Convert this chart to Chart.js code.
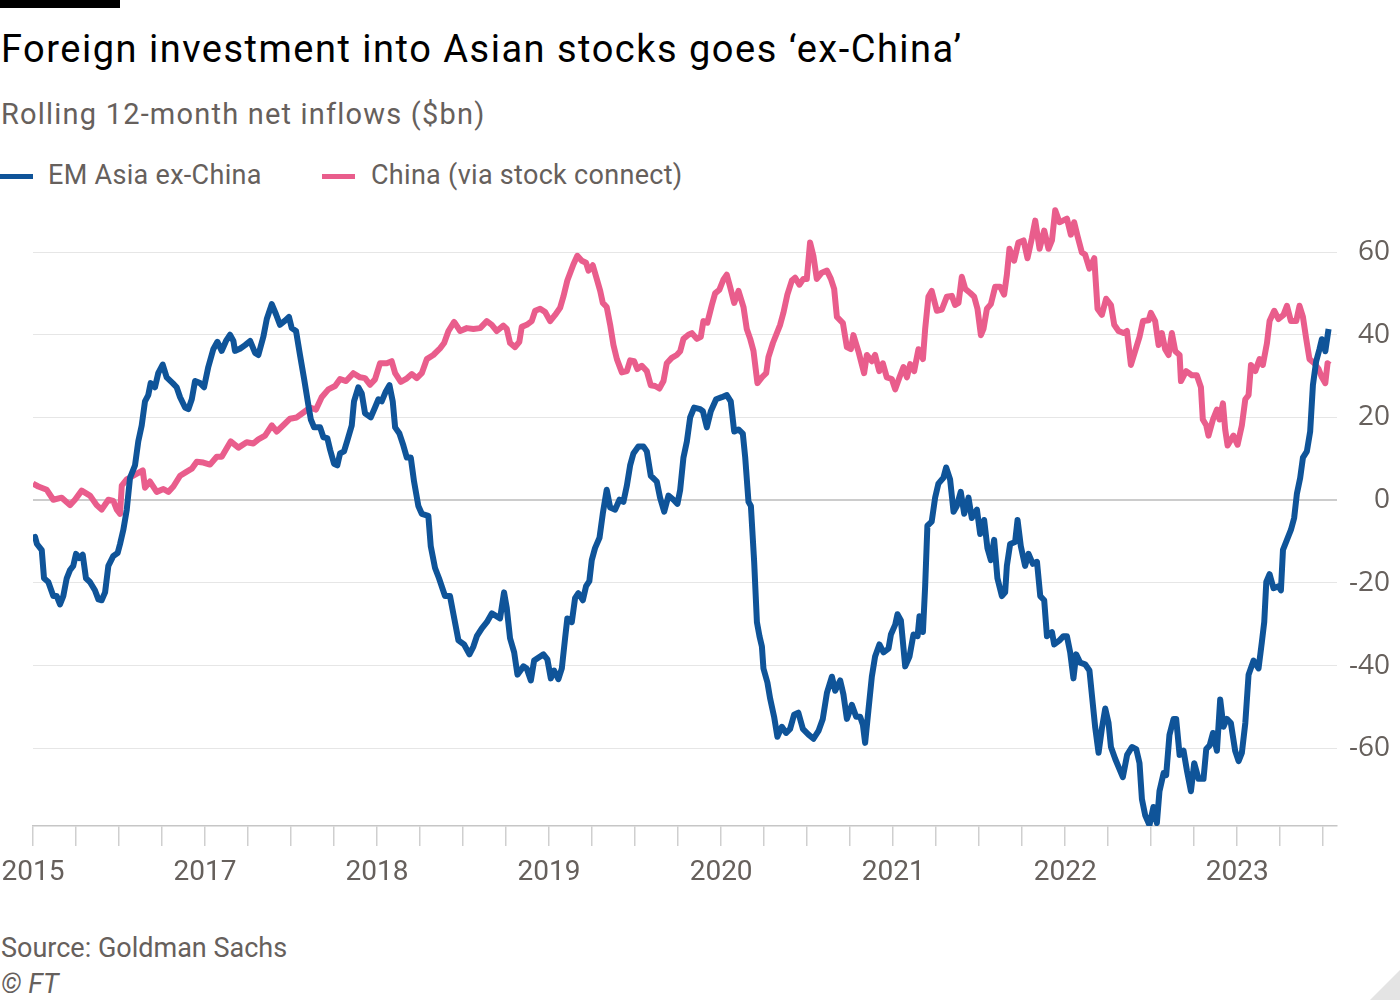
<!DOCTYPE html>
<html>
<head>
<meta charset="utf-8">
<script src="https://cdn.jsdelivr.net/npm/chart.js@4.4.0/dist/chart.umd.min.js"></script>
<style>
  html, body { margin: 0; padding: 0; background: #fff; }
  body { width: 1400px; height: 1000px; position: relative; overflow: hidden; font-family: Roboto, "Noto Sans", sans-serif; }
  .bar { position: absolute; left: 0; top: 0; width: 120px; height: 8px; background: #000; }
  .txt { position: absolute; left: 1px; line-height: 1; white-space: nowrap; }
  #title { top: 30px; font-size: 38px; color: #000; letter-spacing: 1.5px; }
  #subtitle { top: 100px; font-size: 29px; color: #66605c; letter-spacing: 1.2px; }
  .legend { position: absolute; top: 162px; font-size: 27px; color: #66605c; line-height: 1; white-space: nowrap; letter-spacing: 0.3px; }
  .swatch { position: absolute; top: 174px; width: 33px; height: 5px; }
  #source { top: 935px; font-size: 27px; color: #66605c; }
  #ft { top: 971px; font-size: 27px; color: #66605c; font-style: italic; }
  #chart { position: absolute; left: 0; top: 195px; }
  .corner { position: absolute; right: 0; bottom: 0; width: 0; height: 0; border-left: 30px solid transparent; border-bottom: 30px solid #e4e4e4; }
</style>
</head>
<body>
<div class="bar"></div>
<div class="txt" id="title">Foreign investment into Asian stocks goes ‘ex-China’</div>
<div class="txt" id="subtitle">Rolling 12-month net inflows ($bn)</div>
<div class="swatch" style="left:0;background:#0f5499"></div>
<div class="legend" style="left:48px">EM Asia ex-China</div>
<div class="swatch" style="left:322px;background:#e95d8c"></div>
<div class="legend" style="left:371px">China (via stock connect)</div>
<canvas id="chart" width="1400" height="705"></canvas>
<div class="txt" id="source">Source: Goldman Sachs</div>
<div class="txt" id="ft">© FT</div>
<div class="corner"></div>
<script>
// x values are years from the first axis label
var xTickLabels = ["2015", "2017", "2018", "2019", "2020", "2021", "2022", "2023"];

var emDates = [0.000,0.012,0.023,0.051,0.064,0.089,0.118,0.138,0.157,0.176,0.196,0.215,0.234,0.250,0.269,0.289,0.308,0.331,0.360,0.380,
  0.399,0.419,0.438,0.467,0.492,0.506,0.525,0.545,0.564,0.593,0.612,0.632,0.651,0.670,0.684,0.709,0.728,0.754,0.777,0.812,
  0.835,0.855,0.884,0.903,0.923,0.942,0.971,0.994,1.019,1.048,1.072,1.097,1.122,1.145,1.165,1.174,1.203,1.233,1.262,1.291,
  1.310,1.339,1.359,1.388,1.413,1.436,1.465,1.488,1.504,1.529,1.552,1.576,1.601,1.615,1.634,1.669,1.688,1.711,1.727,1.750,
  1.769,1.785,1.808,1.827,1.853,1.866,1.891,1.911,1.930,1.963,1.988,2.008,2.027,2.051,2.072,2.091,2.105,2.130,2.153,2.173,
  2.196,2.215,2.240,2.260,2.298,2.312,2.337,2.360,2.395,2.424,2.444,2.473,2.506,2.537,2.560,2.580,2.609,2.638,2.667,2.696,
  2.715,2.738,2.754,2.773,2.797,2.816,2.851,2.870,2.894,2.913,2.948,2.967,2.990,3.010,3.029,3.054,3.074,3.093,3.106,3.132,
  3.151,3.170,3.196,3.215,3.234,3.248,3.267,3.293,3.312,3.335,3.355,3.384,3.409,3.432,3.452,3.471,3.490,3.519,3.548,3.568,
  3.591,3.626,3.645,3.669,3.694,3.723,3.746,3.762,3.781,3.801,3.820,3.843,3.878,3.894,3.917,3.940,3.971,4.004,4.033,4.056,
  4.076,4.101,4.126,4.140,4.159,4.173,4.192,4.208,4.223,4.237,4.246,4.269,4.285,4.308,4.327,4.353,4.378,4.401,4.424,4.449,
  4.475,4.508,4.537,4.566,4.591,4.615,4.644,4.663,4.692,4.711,4.731,4.760,4.785,4.808,4.824,4.837,4.856,4.876,4.895,4.920,
  4.944,4.973,4.987,5.012,5.025,5.045,5.070,5.095,5.118,5.142,5.153,5.173,5.186,5.199,5.224,5.244,5.263,5.292,5.308,5.331,
  5.351,5.370,5.393,5.413,5.438,5.457,5.487,5.506,5.529,5.548,5.568,5.587,5.606,5.632,5.651,5.661,5.680,5.709,5.723,5.742,
  5.767,5.787,5.812,5.836,5.855,5.878,5.894,5.923,5.936,5.967,5.990,6.010,6.029,6.048,6.064,6.087,6.116,6.141,6.155,6.174,
  6.194,6.213,6.233,6.252,6.266,6.291,6.310,6.335,6.360,6.388,6.413,6.432,6.446,6.465,6.490,6.513,6.533,6.548,6.572,6.587,
  6.606,6.630,6.645,6.665,6.688,6.708,6.731,6.750,6.775,6.804,6.820,6.840,6.859,6.882,6.901,6.920,6.940,6.963,6.988,7.008,
  7.027,7.047,7.066,7.095,7.124,7.143,7.157,7.169,7.188,7.211,7.240,7.254,7.266,7.289,7.312,7.331,7.347,7.366,7.382,7.405,
  7.424,7.440,7.459,7.478,7.492,7.512,7.531];

var emValues = [-9.1,-8.9,-10.6,-12.1,-18.9,-19.8,-23.2,-23.2,-25.2,-23.2,-18.9,-16.9,-15.9,-13.0,-14.0,-13.2,-18.9,-19.8,-21.8,-24.0,
  -24.2,-22.3,-15.9,-13.5,-12.8,-10.6,-7.2,-2.3,5.4,8.4,14.2,18.1,23.9,25.4,28.3,27.3,30.7,32.8,29.7,28.3,
  27.3,24.9,22.4,22.0,24.4,28.8,28.3,27.3,32.2,36.5,38.3,36.1,38.5,40.0,38.5,36.1,36.6,37.5,38.5,35.6,
  35.1,39.5,43.8,47.4,44.9,42.4,43.4,44.3,41.6,40.9,35.1,29.3,22.9,19.5,17.6,17.6,15.2,15.0,12.2,8.8,
  8.4,11.3,11.8,14.4,18.1,23.9,27.3,25.8,21.0,20.0,22.4,24.4,23.9,26.3,27.8,23.9,17.6,16.1,13.2,10.3,
  10.3,4.5,-1.4,-3.3,-3.8,-11.1,-16.4,-18.9,-23.2,-23.2,-27.6,-33.9,-34.9,-37.3,-35.4,-32.9,-31.0,-29.5,-27.4,-28.1,
  -28.6,-22.3,-26.1,-33.4,-36.8,-42.2,-40.2,-40.7,-43.6,-38.8,-37.8,-37.3,-38.5,-43.1,-41.2,-43.3,-40.7,-33.4,-28.6,-29.5,
  -23.7,-22.5,-24.2,-20.8,-19.6,-14.5,-11.6,-9.1,-3.3,2.5,-1.8,-2.3,0.1,-0.4,3.5,8.4,11.3,13.0,13.0,11.8,
  5.9,4.5,0.6,-2.8,1.1,0.1,-0.9,2.5,10.3,14.2,20.0,22.4,22.0,21.5,17.6,21.5,24.4,24.9,25.4,23.9,
  16.6,17.1,16.1,10.3,-0.4,-1.4,-14.9,-29.5,-32.9,-35.4,-40.7,-44.1,-48.0,-52.4,-57.2,-54.8,-56.3,-55.3,-51.9,-51.4,
  -55.3,-56.7,-57.7,-55.8,-52.9,-46.6,-42.7,-46.1,-43.6,-47.0,-52.9,-49.5,-52.4,-52.4,-54.3,-58.7,-50.9,-42.7,-37.8,-34.9,
  -36.8,-35.9,-32.5,-30.1,-27.6,-29.1,-40.2,-37.8,-32.5,-32.9,-28.1,-31.9,-20.8,-6.2,-5.2,0.6,4.0,5.4,7.9,5.0,
  -2.8,-1.4,2.0,-3.3,0.6,-4.3,-2.3,-8.2,-4.8,-11.6,-14.5,-9.6,-18.9,-23.2,-22.3,-15.9,-10.6,-10.1,-4.8,-11.1,
  -15.9,-13.0,-15.4,-14.9,-23.2,-24.2,-32.9,-31.9,-34.9,-33.9,-32.9,-32.9,-36.8,-43.1,-37.3,-39.3,-39.7,-41.2,-47.0,-54.8,
  -61.1,-55.3,-50.4,-53.9,-59.7,-62.6,-64.5,-67.0,-61.6,-59.7,-60.2,-63.6,-72.3,-76.2,-78.6,-74.2,-78.1,-70.4,-66.0,-66.5,
  -56.8,-52.9,-52.9,-61.6,-60.6,-65.5,-70.4,-63.6,-67.4,-67.4,-60.2,-59.3,-56.3,-60.6,-48.2,-54.8,-52.9,-53.9,-60.6,-63.1,
  -61.1,-53.9,-42.2,-38.8,-40.7,-34.4,-29.5,-19.8,-17.9,-21.3,-20.8,-21.8,-12.0,-9.6,-7.2,-4.3,1.6,5.4,10.3,11.8,
  16.6,27.8,33.6,36.5,38.9,36.0,41.4];

var chinaDates = [0.000,0.031,0.080,0.118,0.167,0.215,0.244,0.283,0.331,0.370,0.399,0.438,0.467,0.487,0.506,0.516,0.545,0.583,0.612,0.638,
  0.651,0.680,0.719,0.758,0.787,0.816,0.855,0.894,0.923,0.952,0.990,1.029,1.068,1.097,1.149,1.194,1.242,1.281,1.310,1.349,
  1.388,1.417,1.455,1.494,1.533,1.572,1.610,1.645,1.678,1.717,1.756,1.785,1.820,1.862,1.901,1.930,1.959,1.988,2.017,2.056,
  2.085,2.105,2.138,2.169,2.202,2.231,2.260,2.289,2.327,2.366,2.390,2.415,2.448,2.483,2.522,2.560,2.599,2.638,2.667,2.696,
  2.734,2.754,2.773,2.802,2.827,2.841,2.870,2.899,2.919,2.948,2.977,3.006,3.035,3.064,3.083,3.106,3.141,3.164,3.190,3.215,
  3.229,3.254,3.277,3.297,3.312,3.335,3.355,3.374,3.394,3.423,3.452,3.471,3.494,3.513,3.539,3.568,3.591,3.616,3.641,3.665,
  3.684,3.713,3.742,3.762,3.781,3.810,3.830,3.859,3.882,3.897,3.920,3.946,3.965,3.990,4.013,4.033,4.052,4.076,4.101,4.130,
  4.149,4.169,4.188,4.211,4.237,4.262,4.275,4.301,4.324,4.343,4.362,4.385,4.411,4.430,4.455,4.478,4.498,4.517,4.537,4.556,
  4.585,4.615,4.638,4.657,4.673,4.708,4.731,4.754,4.769,4.798,4.831,4.847,4.876,4.895,4.919,4.940,4.963,4.992,5.012,5.037,
  5.060,5.080,5.099,5.122,5.147,5.173,5.186,5.205,5.224,5.254,5.283,5.312,5.341,5.360,5.380,5.399,5.419,5.448,5.471,5.490,
  5.510,5.525,5.545,5.568,5.593,5.622,5.645,5.661,5.676,5.703,5.728,5.758,5.781,5.806,5.826,5.851,5.878,5.903,5.923,5.942,
  5.967,5.987,6.010,6.033,6.052,6.072,6.097,6.116,6.141,6.169,6.188,6.213,6.238,6.266,6.285,6.310,6.339,6.359,6.382,6.407,
  6.432,6.452,6.485,6.498,6.523,6.543,6.562,6.581,6.601,6.620,6.640,6.665,6.673,6.703,6.736,6.765,6.789,6.800,6.820,6.833,
  6.859,6.882,6.897,6.917,6.930,6.944,6.978,7.002,7.027,7.047,7.066,7.080,7.105,7.130,7.149,7.173,7.188,7.215,7.240,7.269,
  7.289,7.312,7.343,7.362,7.382,7.401,7.420,7.448,7.473,7.492,7.512,7.525,7.537];

var chinaValues = [4.0,3.3,2.5,0.1,0.6,-1.2,0.1,2.3,1.1,-1.2,-2.3,0.1,-0.2,-2.3,-3.3,3.5,5.0,5.9,6.6,7.2,
  3.0,4.5,2.0,2.7,2.0,3.3,5.9,6.9,7.6,9.3,9.1,8.6,10.5,10.5,14.2,12.7,14.0,13.7,14.7,15.6,
  18.1,16.6,18.1,19.7,20.0,21.2,22.4,21.9,24.9,26.8,27.6,29.3,28.8,30.7,29.7,29.5,27.9,29.2,33.1,33.1,
  33.6,30.7,28.6,29.3,30.5,29.5,30.7,34.1,35.1,36.7,38.0,40.9,43.1,40.9,41.6,41.4,41.6,43.3,42.4,40.9,
  42.2,41.4,38.0,37.0,38.3,41.9,42.4,43.3,45.8,46.3,45.5,43.3,44.8,46.5,49.2,53.1,57.0,59.1,57.9,57.4,
  55.5,56.8,53.5,50.6,47.7,46.7,42.4,37.5,34.1,30.9,31.2,33.8,33.6,31.7,32.5,31.2,27.8,27.6,27.0,28.8,
  33.1,34.4,35.1,36.0,39.0,40.0,40.4,39.0,39.5,43.3,42.9,47.2,50.0,50.9,53.3,54.5,51.6,47.7,50.6,46.7,
  41.4,39.0,36.1,28.3,29.7,30.7,34.6,38.0,40.4,42.4,45.3,49.7,53.1,53.8,52.1,53.5,53.5,62.3,58.9,53.5,
  55.0,55.5,53.5,51.1,44.3,42.8,37.0,36.5,39.9,36.0,30.7,35.1,33.6,35.1,31.2,33.1,29.7,29.3,26.8,29.7,
  32.2,29.7,32.9,31.2,36.5,34.1,41.4,49.2,50.6,45.8,46.1,49.2,49.4,47.2,47.7,54.0,51.1,50.1,49.2,46.3,
  39.9,41.4,46.3,47.4,51.6,51.6,49.7,54.5,60.8,57.9,62.3,62.8,58.5,63.3,67.6,60.8,65.2,60.8,62.8,70.1,
  67.2,67.6,68.1,64.2,67.2,63.8,59.9,59.4,56.0,58.5,46.3,44.8,48.7,47.2,42.4,40.9,40.4,40.9,32.7,36.1,
  39.5,43.3,43.5,45.3,43.3,37.5,40.4,36.5,35.1,40.4,36.0,35.1,28.8,31.2,30.2,30.2,27.3,19.5,18.1,15.6,
  19.5,21.9,19.5,23.4,17.1,13.2,15.6,13.4,18.1,24.4,25.4,32.7,31.2,34.1,32.7,38.0,43.3,45.8,43.8,44.8,
  47.0,43.3,43.3,47.0,44.3,39.0,34.1,33.1,31.7,29.7,28.3,33.1,32.7];

var yTicks = [-60, -40, -20, 0, 20, 40, 60];

function toPoints(xs, ys) {
  return xs.map(function (x, i) { return { x: x, y: ys[i] }; });
}

var tickFont = { family: "Roboto, 'Noto Sans', sans-serif", size: 28 };

var ctx = document.getElementById("chart");
var myChart = new Chart(ctx, {
  type: "line",
  data: {
    datasets: [
      {
        label: "EM Asia ex-China",
        data: toPoints(emDates, emValues),
        borderColor: "#0f5499",
        borderWidth: 6,
        pointRadius: 0,
        borderJoinStyle: "round",
        fill: false
      },
      {
        label: "China (via stock connect)",
        data: toPoints(chinaDates, chinaValues),
        borderColor: "#e95d8c",
        borderWidth: 6,
        pointRadius: 0,
        borderJoinStyle: "round",
        fill: false
      }
    ]
  },
  options: {
    responsive: false,
    animation: false,
    layout: { padding: { left: 33, right: 10, top: 7, bottom: 0 } },
    plugins: {
      legend: { display: false },
      tooltip: { enabled: false }
    },
    scales: {
      x: {
        type: "linear",
        min: 0,
        max: 7.58,
        afterBuildTicks: function (scale) {
          var t = [];
          for (var i = 0; i <= 30; i++) t.push({ value: i * 0.25 });
          scale.ticks = t;
        },
        afterFit: function (scale) {
          scale.height = 74;
          scale.paddingLeft = 0;
          scale.paddingRight = 0;
        },
        grid: {
          drawOnChartArea: false,
          drawTicks: true,
          tickLength: 20,
          color: "#cfcfcf",
          lineWidth: 1.5
        },
        border: { display: true, color: "#c6c6c6", width: 1.5 },
        ticks: {
          autoSkip: false,
          maxRotation: 0,
          padding: 10,
          color: "#66605c",
          font: tickFont,
          callback: function (value) {
            return Number.isInteger(value) ? xTickLabels[value] : "";
          }
        }
      },
      y: {
        position: "right",
        min: -78.8,
        max: 72.1,
        afterBuildTicks: function (scale) {
          scale.ticks = yTicks.map(function (v) { return { value: v }; });
        },
        afterFit: function (scale) {
          scale.width = 53;
          scale.paddingTop = 0;
          scale.paddingBottom = 0;
        },
        grid: {
          drawTicks: false,
          color: function (c) { return c.tick && c.tick.value === 0 ? "#cccccc" : "#e6e6e6"; },
          lineWidth: function (c) { return c.tick && c.tick.value === 0 ? 2 : 1; }
        },
        border: { display: false },
        ticks: {
          crossAlign: "far",
          padding: 2,
          color: "#66605c",
          font: { family: "'Open Sans', sans-serif", size: 28 }
        }
      }
    }
  }
});
</script>
</body>
</html>
